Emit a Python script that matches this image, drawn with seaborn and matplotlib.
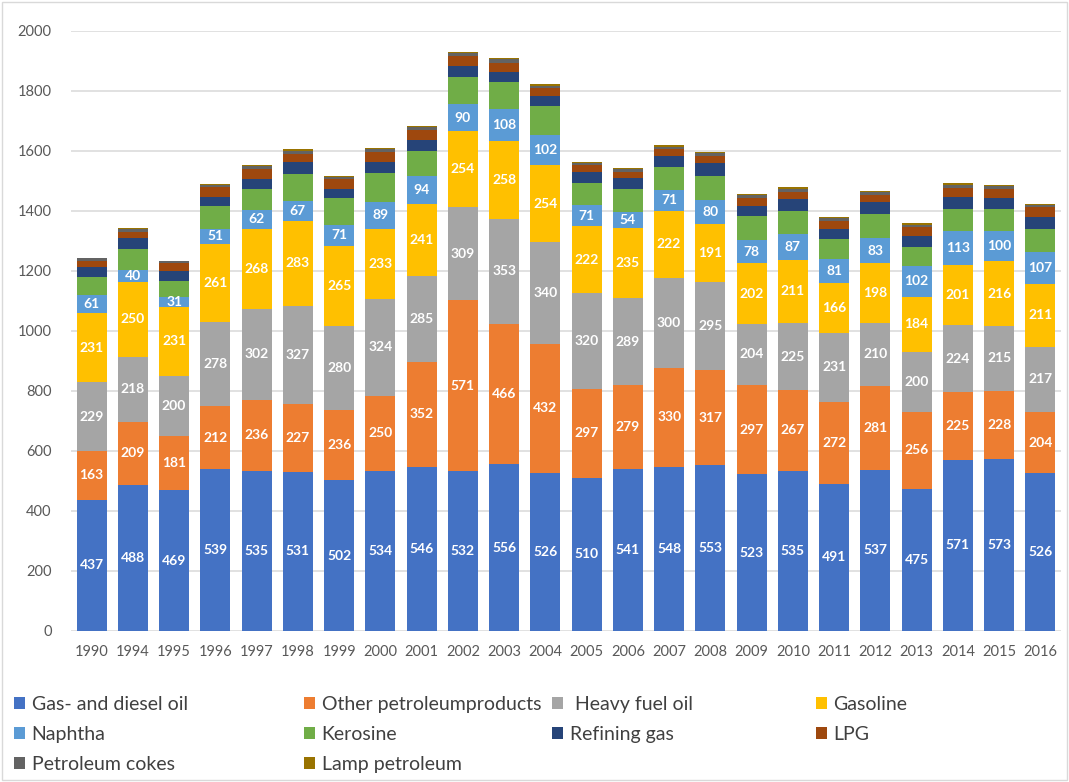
import numpy as np
import pandas as pd
import matplotlib
matplotlib.use("Agg")
import matplotlib.pyplot as plt
from matplotlib.patches import Patch, Rectangle
import seaborn as sns

# Consumption of petroleum products by year (stacked)
years = ["1990", "1994", "1995", "1996", "1997", "1998", "1999", "2000", "2001", "2002",
         "2003", "2004", "2005", "2006", "2007", "2008", "2009", "2010", "2011", "2012",
         "2013", "2014", "2015", "2016"]

gas_diesel = [437, 488, 469, 539, 535, 531, 502, 534, 546, 532, 556, 526, 510, 541, 548, 553,
              523, 535, 491, 537, 475, 571, 573, 526]
other_products = [163, 209, 181, 212, 236, 227, 236, 250, 352, 571, 466, 432, 297, 279, 330, 317,
                  297, 267, 272, 281, 256, 225, 228, 204]
heavy_fuel = [229, 218, 200, 278, 302, 327, 280, 324, 285, 309, 353, 340, 320, 289, 300, 295,
              204, 225, 231, 210, 200, 224, 215, 217]
gasoline = [231, 250, 231, 261, 268, 283, 265, 233, 241, 254, 258, 254, 222, 235, 222, 191,
            202, 211, 166, 198, 184, 201, 216, 211]
naphtha = [61, 40, 31, 51, 62, 67, 71, 89, 94, 90, 108, 102, 71, 54, 71, 80,
           78, 87, 81, 83, 102, 113, 100, 107]
kerosine = [60, 67, 55, 76, 69, 89, 88, 97, 82, 92, 90, 96, 74, 76, 77, 81,
            80, 76, 66, 81, 64, 72, 74, 75]
refining_gas = [33, 37, 33, 31, 36, 38, 30, 37, 37, 36, 33, 33, 37, 37, 35, 42,
                34, 39, 33, 39, 37, 42, 38, 39]
lpg = [21, 22, 26, 33, 33, 29, 34, 33, 33, 33, 30, 26, 22, 20, 23, 24,
       24, 23, 28, 24, 28, 30, 29, 33]
petroleum_cokes = [7, 8, 6, 6, 8, 10, 7, 9, 9, 10, 12, 9, 8, 9, 9, 9,
                   10, 11, 9, 10, 9, 10, 10, 8]
lamp_petroleum = [3, 3, 2, 3, 4, 5, 4, 4, 4, 4, 5, 4, 3, 4, 4, 4,
                  5, 5, 4, 5, 4, 4, 4, 3]

series_names = ["Gas- and diesel oil", "Other petroleumproducts", " Heavy fuel oil", "Gasoline",
                "Naphtha", "Kerosine", "Refining gas", "LPG", "Petroleum cokes", "Lamp petroleum"]
series_values = [gas_diesel, other_products, heavy_fuel, gasoline, naphtha, kerosine,
                 refining_gas, lpg, petroleum_cokes, lamp_petroleum]
colors = ["#4472C4", "#ED7D31", "#A5A5A5", "#FFC000", "#5B9BD5", "#70AD47",
          "#264478", "#9E480E", "#636363", "#997300"]
labelled = 5  # the first five series carry value labels

sns.set_theme(style="white")
plt.rcParams["font.family"] = ["Lato", "DejaVu Sans"]

fig = plt.figure(figsize=(10.69, 7.82), dpi=100)
ax = fig.add_axes([71 / 1069, 1 - 631 / 782, (1061 - 71) / 1069, 600 / 782])

vals = np.array(series_values, dtype=float)
cum = np.cumsum(vals, axis=0)

# Stacked bars: draw cumulative totals from the top series down
for i in range(len(series_names) - 1, -1, -1):
    df = pd.DataFrame({"year": years, "total": cum[i]})
    sns.barplot(data=df, x="year", y="total", order=years, color=colors[i],
                saturation=1, width=0.73, ax=ax, linewidth=0, zorder=3)

# Value labels inside the lower segments
for i in range(labelled):
    for j in range(len(years)):
        v = vals[i, j]
        base = cum[i, j] - v
        ax.text(j, base + v / 2, f"{int(v)}", ha="center", va="center",
                color="white", fontsize=10, fontweight="bold", zorder=5)

ax.set_ylim(0, 2000)
ax.set_xlim(-0.5, len(years) - 0.5)
ax.set_yticks(np.arange(0, 2001, 200))
ax.yaxis.grid(True, color="#D9D9D9", linewidth=1.1, zorder=0)
ax.set_axisbelow(True)
for s in ax.spines.values():
    s.set_visible(False)
ax.set_xlabel("")
ax.set_ylabel("")
ax.tick_params(axis="both", length=0, labelsize=10.5, colors="#595959")
ax.tick_params(axis="x", pad=10)
ax.tick_params(axis="y", pad=14)

# Legend laid out in four columns
handles = [Patch(facecolor=c, edgecolor="none") for c in colors]
columns = [[0, 4, 8], [1, 5, 9], [2, 6], [3, 7]]
col_x = [14 / 1069, 304 / 1069, 552 / 1069, 816 / 1069]
for xs, idx in zip(col_x, columns):
    fig.legend([handles[k] for k in idx], [series_names[k] for k in idx],
               loc="upper left", bbox_to_anchor=(xs, 1 - 696 / 782), frameon=False,
               fontsize=14, handlelength=0.55, handleheight=0.55, handletextpad=0.35,
               labelspacing=0.66, borderaxespad=0, borderpad=0, labelcolor="#404040")

fig.patches.append(Rectangle((0.002, 0.002), 0.996, 0.996, transform=fig.transFigure,
                             fill=False, edgecolor="#D9D9D9", linewidth=1))

fig.savefig("out.png", dpi=100, facecolor="white")
